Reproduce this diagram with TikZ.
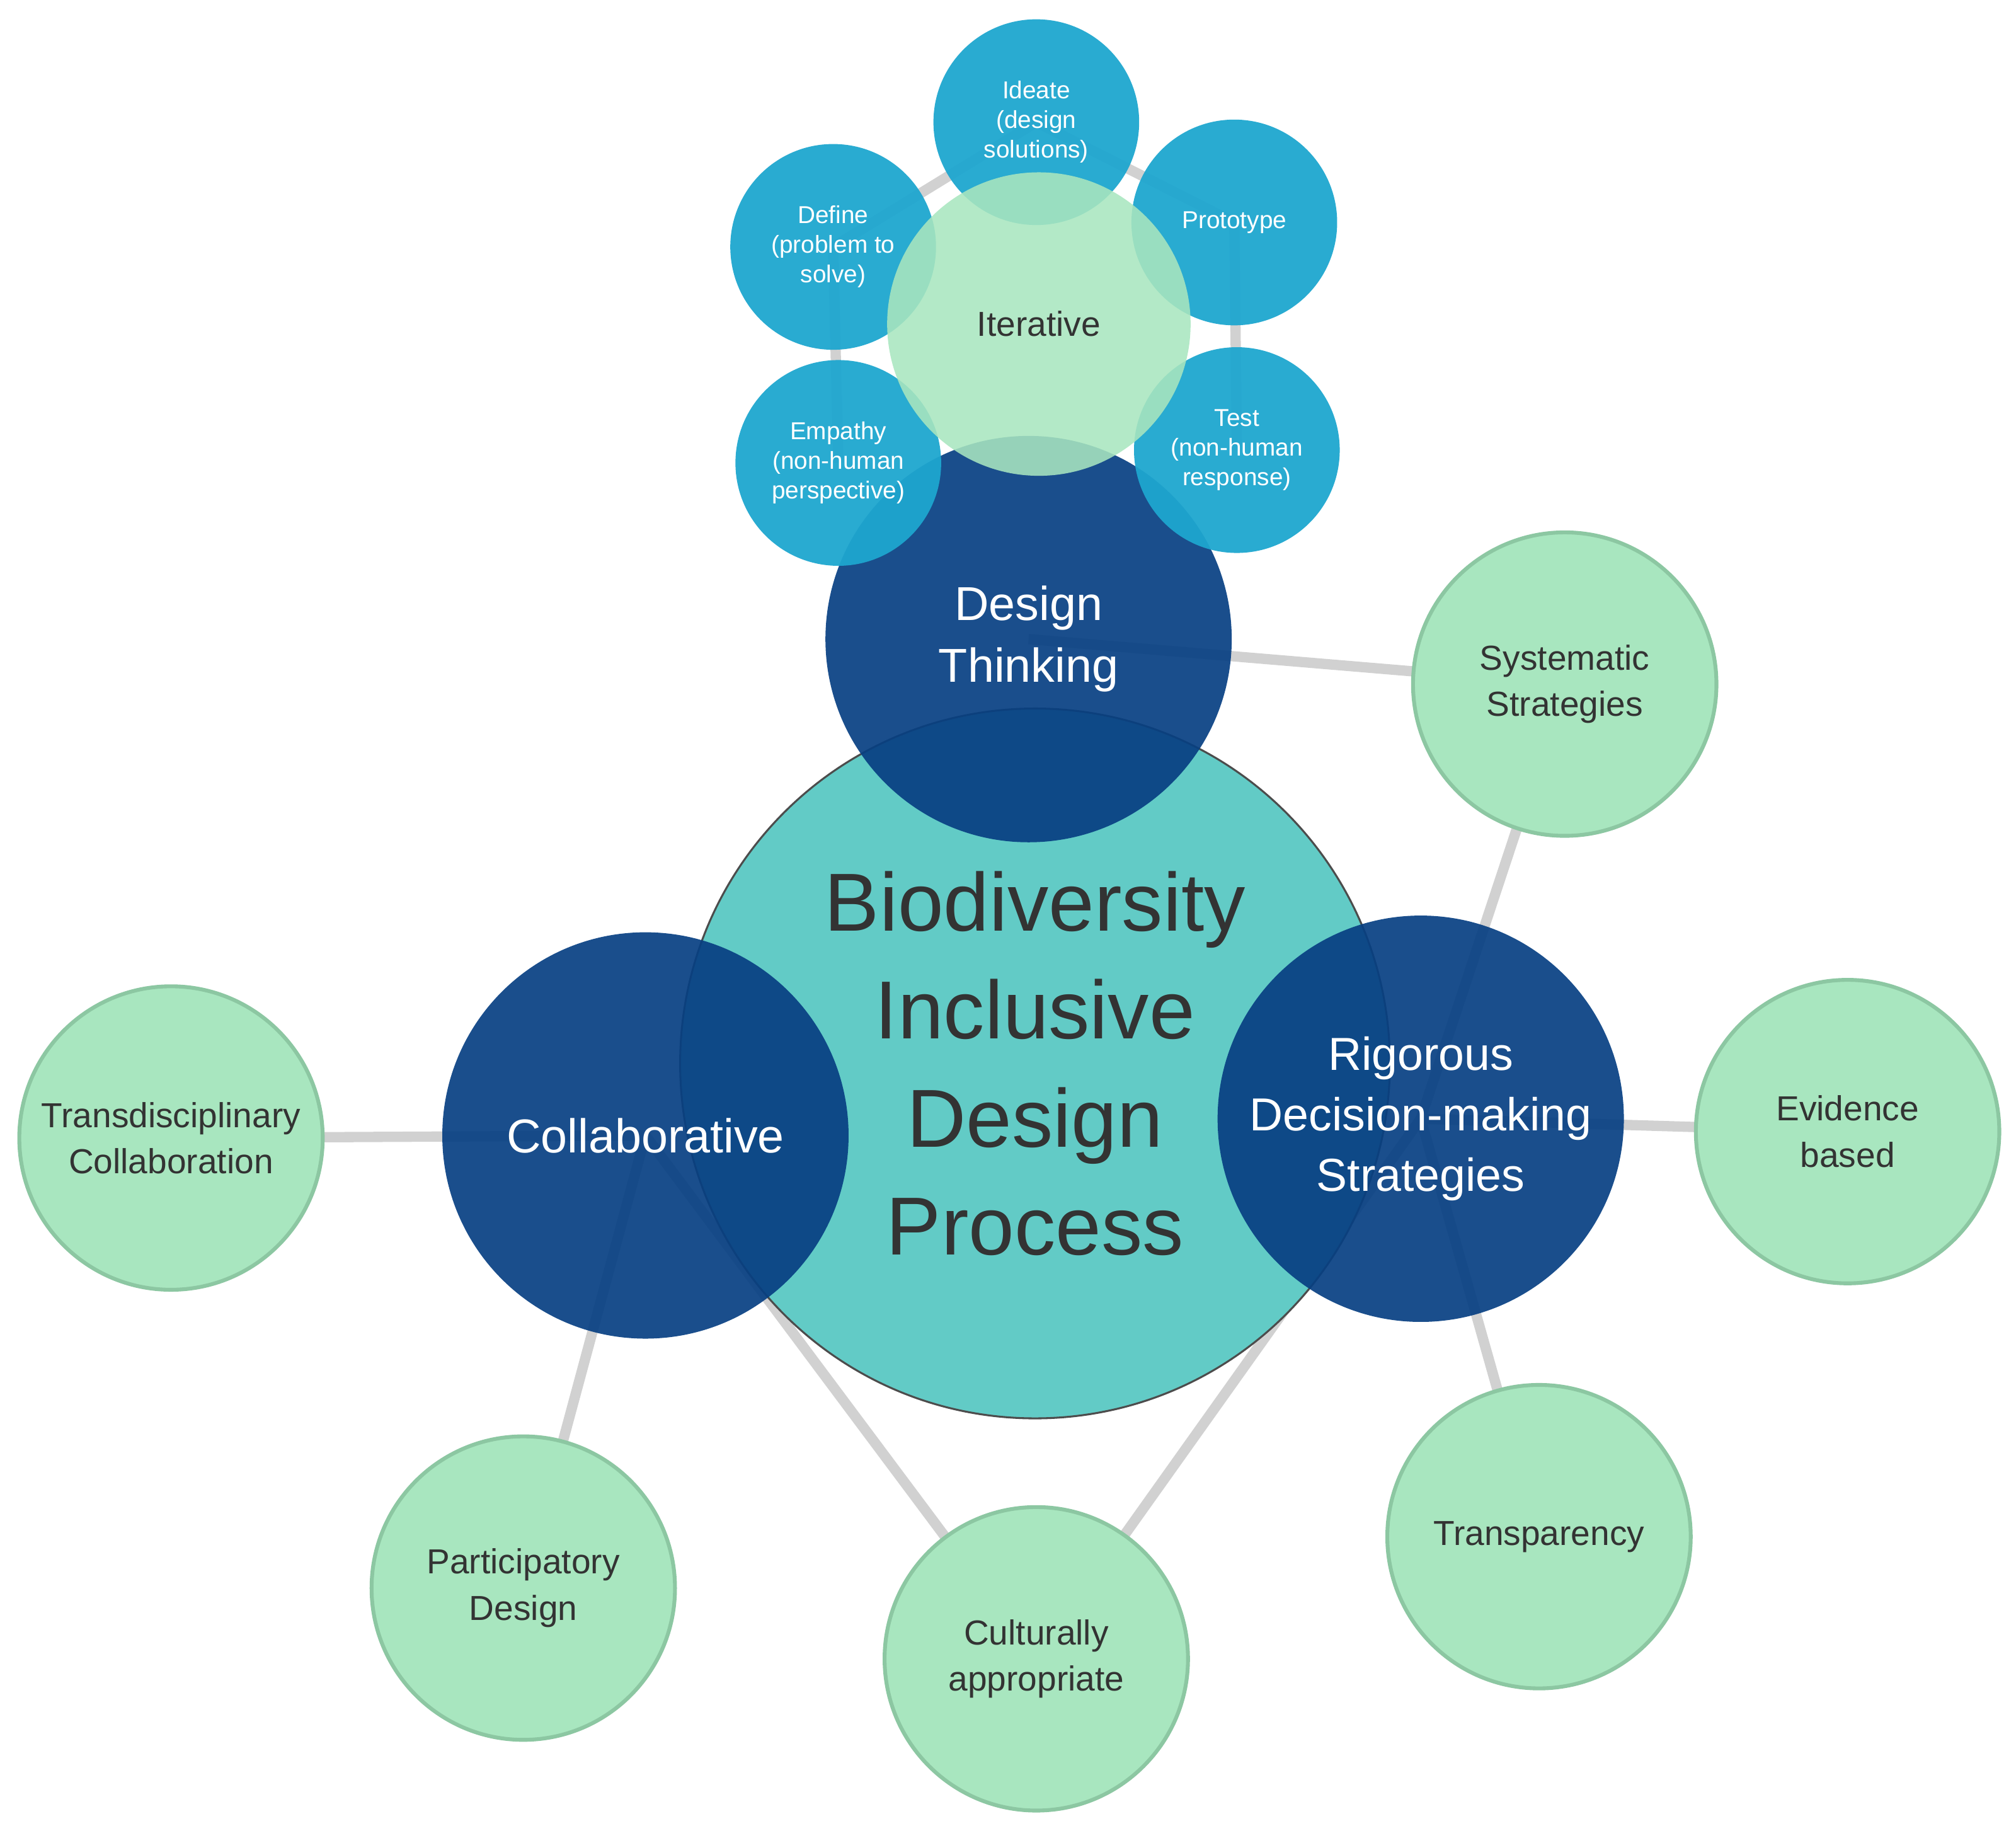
\documentclass[tikz,border=0pt]{standalone}
\usepackage{fontspec}
\setmainfont{Liberation Sans}
\begin{document}
\begin{tikzpicture}[x=1pt,y=-1pt,
  conn/.style={draw=black!18,line width=8pt},
  bub/.style={circle,inner sep=0pt,align=center},
  green/.style={bub,minimum size=236pt,fill=green!25!cyan!5!white,fill=gfill,draw=gdraw,line width=3pt,text=black!80,font=\fontsize{27}{36}\selectfont},
  dark/.style={bub,minimum size=316pt,fill=dblue,fill opacity=0.92,text opacity=1,text=white,font=\fontsize{37}{48}\selectfont},
  small/.style={bub,minimum size=160pt,fill=sblue,fill opacity=0.95,text opacity=1,text=white,font=\fontsize{19}{23}\selectfont}]
\definecolor{gfill}{HTML}{A8E6BF}
\definecolor{gdraw}{HTML}{8CC7A2}
\definecolor{dblue}{HTML}{073F82}
\definecolor{sblue}{HTML}{1EA6CF}
\definecolor{teal}{HTML}{62CBC6}
\useasboundingbox (0,0) rectangle (1568,1433);
% coordinates
\coordinate (cC) at (805,827);
\coordinate (cDT) at (800,497);
\coordinate (cCo) at (502,883);
\coordinate (cR) at (1105,870);
\coordinate (cI) at (808,252);
\coordinate (cId) at (806,95);
\coordinate (cDe) at (648,192);
\coordinate (cPr) at (960,173);
\coordinate (cEm) at (652,360);
\coordinate (cTe) at (962,350);
\coordinate (cSy) at (1217,532);
\coordinate (cEv) at (1437,880);
\coordinate (cTr) at (1197,1195);
\coordinate (cCu) at (806,1290);
\coordinate (cPa) at (407,1235);
\coordinate (cTd) at (133,885);
% connectors
\draw[conn] (cId) -- (cDe) -- (cEm);
\draw[conn] (cId) -- (cPr) -- (cTe);
\draw[conn] (cDT) -- (cSy) -- (cR) -- (cEv);
\draw[conn] (cR) -- (cTr);
\draw[conn] (cR) -- (cCu) -- (cCo);
\draw[conn] (cCo) -- (cPa);
\draw[conn] (cCo) -- (cTd);
% nodes
\node[green] (sy) at (cSy) {Systematic\\Strategies};
\node[green] (ev) at (cEv) {Evidence\\based};
\node[green] (tr) at (cTr) {Transparency};
\node[green] (cu) at (cCu) {Culturally\\appropriate};
\node[green] (pa) at (cPa) {Participatory\\Design};
\node[green] (td) at (cTd) {Transdisciplinary\\Collaboration};
\node[bub,minimum size=552pt,fill=teal,draw=black!70,line width=1.5pt,text=black!80,font=\fontsize{64}{84}\selectfont] (c) at (cC) {Biodiversity\\Inclusive\\Design\\Process};
\node[dark] (dt) at (cDT) {Design\\Thinking};
\node[dark] (co) at (cCo) {Collaborative};
\node[dark,font=\fontsize{36}{47}\selectfont] (r) at (cR) {Rigorous\\Decision-making\\Strategies};
\node[small] (id) at (cId) {Ideate\\(design\\solutions)};
\node[small] (de) at (cDe) {Define\\(problem to\\solve)};
\node[small] (pr) at (cPr) {Prototype};
\node[small] (em) at (cEm) {Empathy\\(non-human\\perspective)};
\node[small] (te) at (cTe) {Test\\(non-human\\response)};
\node[bub,minimum size=236pt,fill=gfill,fill opacity=0.88,text opacity=1,text=black!80,font=\fontsize{27}{36}\selectfont] (it) at (cI) {Iterative};
\end{tikzpicture}
\end{document}
